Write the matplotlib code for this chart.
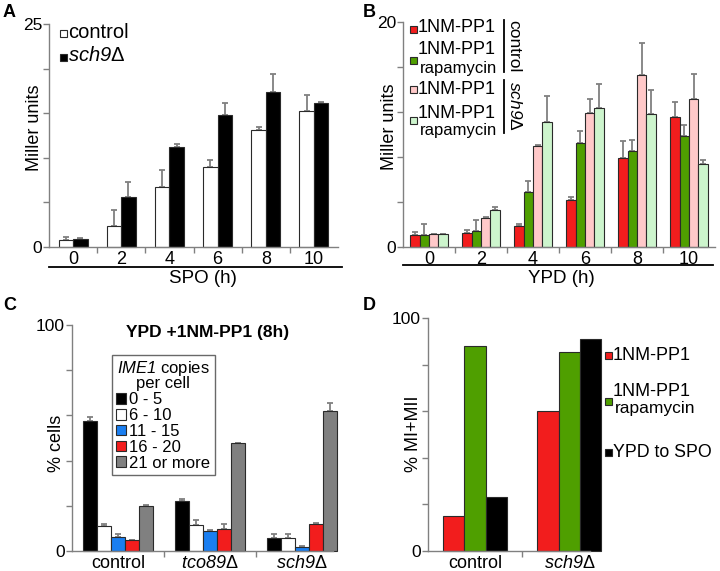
import matplotlib
matplotlib.use('Agg')
import matplotlib.pyplot as plt
from matplotlib.patches import Rectangle, Patch
from matplotlib.lines import Line2D
import numpy as np

plt.rcParams['font.family'] = ['Liberation Sans', 'DejaVu Sans']
plt.rcParams['mathtext.fontset'] = 'custom'
plt.rcParams['mathtext.rm'] = 'Liberation Sans'
plt.rcParams['mathtext.it'] = 'Liberation Sans:italic'
plt.rcParams['mathtext.sf'] = 'Liberation Sans:italic'
plt.rcParams['mathtext.bf'] = 'Liberation Sans:bold'

# ---------------- data ----------------
hours = ['0', '2', '4', '6', '8', '10']

# Panel A (Miller units, SPO)
a_control = [0.82, 2.4, 6.7, 9.0, 13.1, 15.2]
a_control_err = [0.3, 1.8, 1.9, 0.8, 0.4, 1.8]
a_sch9 = [0.93, 5.6, 11.2, 14.85, 17.4, 16.1]
a_sch9_err = [0.05, 1.7, 0.3, 1.25, 2.0, 0.15]

# Panel B (Miller units, YPD)
b_ctrl_nm = [1.04, 1.24, 1.89, 4.2, 7.9, 11.57]
b_ctrl_nm_err = [0.3, 0.24, 0.18, 0.24, 1.54, 1.3]
b_ctrl_rap = [1.04, 1.39, 4.88, 9.23, 8.49, 9.88]
b_ctrl_rap_err = [1.0, 1.04, 1.0, 1.04, 1.0, 0.95]
b_sch9_nm = [1.15, 2.57, 9.02, 11.95, 15.27, 13.17]
b_sch9_nm_err = [0.03, 0.09, 0.08, 1.25, 2.9, 2.2]
b_sch9_rap = [1.15, 3.28, 11.1, 12.4, 11.86, 7.37]
b_sch9_rap_err = [0.03, 0.32, 2.36, 2.1, 2.14, 0.35]

# Panel C (% cells)
c_strains = ['control', '$\\mathsf{tco89}$Δ', '$\\mathsf{sch9}$Δ']
c_bins = ['0 - 5', '6 - 10', '11 - 15', '16 - 20', '21 or more']
c_0_5 = [57.5, 22.2, 5.9]
c_0_5_err = [1.9, 1.0, 1.8]
c_6_10 = [11.2, 11.4, 5.9]
c_6_10_err = [0.9, 2.2, 1.8]
c_11_15 = [6.35, 8.7, 1.8]
c_11_15_err = [1.35, 0.8, 0.4]
c_16_20 = [4.7, 9.9, 12.1]
c_16_20_err = [0.3, 2.2, 0.5]
c_21 = [20.1, 47.7, 62.0]
c_21_err = [0.4, 0.3, 3.7]

# Panel D (% MI+MII)
d_strains = ['control', '$\\mathsf{sch9}$Δ']
d_nm = [14.9, 60.0]
d_rap = [88.1, 85.2]
d_spo = [23.1, 91.1]

# ---------------- style ----------------
W, H = 720, 571
RED = '#f21d1d'
GREEN = '#4f9f00'
PINK = '#ffc9c9'
LGREEN = '#cdf5cd'
BLUE = '#1a7ef0'
GBAR = '#808080'
AX = '#808080'
EDGE = '#2a2a2a'

fig = plt.figure(figsize=(7.2, 5.71), dpi=100)


def axes_px(l, t, r, b):
    return fig.add_axes([l / W, 1 - b / H, (r - l) / W, (b - t) / H])


def style(ax, ymax, step, xlabels, xlim):
    for s in ['top', 'right']:
        ax.spines[s].set_visible(False)
    for s in ['left', 'bottom']:
        ax.spines[s].set_color(AX)
        ax.spines[s].set_linewidth(1.0)
    ax.set_ylim(0, ymax)
    yt = np.arange(0, ymax + step / 2, step)
    ax.set_yticks(yt)
    ax.set_yticklabels(['0'] + [''] * (len(yt) - 2) + [str(ymax)])
    ax.tick_params(axis='y', length=4, width=1, color=AX, pad=1, labelsize=12.5)
    n = len(xlabels)
    ax.set_xticks(np.arange(n))
    ax.set_xticklabels(xlabels)
    ax.set_xticks(np.arange(n - 1) + 0.5, minor=True)
    ax.tick_params(axis='x', which='major', length=0, pad=3, labelsize=13)
    ax.tick_params(axis='x', which='minor', length=4, width=1, color=AX)
    ax.set_xlim(*xlim)


def bars(ax, x, vals, err, width, color):
    kw = dict(width=width, color=color, edgecolor=EDGE, linewidth=0.8, clip_on=False, zorder=2)
    if err is not None:
        kw['yerr'] = [np.zeros(len(vals)), err]
        kw['error_kw'] = dict(ecolor=GBAR, elinewidth=1.3, capsize=2.2, capthick=1.3, zorder=1)
    ax.bar(x, vals, **kw)


def ftext(x, y, s, **kw):
    fig.text(x / W, 1 - y / H, s, **kw)


def fsquare(cx, cy, color, size=7):
    fig.add_artist(Rectangle(((cx - size / 2) / W, 1 - (cy + size / 2) / H), size / W, size / H,
                             transform=fig.transFigure, facecolor=color, edgecolor=EDGE, lw=0.8))


def fline(x0, y0, x1, y1, lw=1.3):
    fig.add_artist(Line2D([x0 / W, x1 / W], [1 - y0 / H, 1 - y1 / H], color='black', lw=lw,
                          transform=fig.transFigure))


# ---------------- Panel A ----------------
axA = axes_px(49, 24, 338, 247)
x = np.arange(len(hours))
bars(axA, x - 0.15, a_control, a_control_err, 0.3, 'white')
bars(axA, x + 0.15, a_sch9, a_sch9_err, 0.3, 'black')
style(axA, 25, 5, hours, (-0.5, 5.5))
axA.set_ylabel('Miller units', fontsize=13)
axA.yaxis.set_label_coords(-0.022, 0.534)
axA.set_xlabel('SPO (h)', fontsize=13.5)
axA.xaxis.set_label_coords(0.533, -0.105)
axA.plot([0, 1.014], [-0.0897, -0.0897], transform=axA.transAxes, color='black', lw=1.3, clip_on=False)
fsquare(63.5, 33, 'white', 7)
fsquare(63.5, 57.5, 'black', 7)
ftext(68, 38, 'control', fontsize=14.5, va='baseline')
ftext(68, 61, '$\\mathsf{sch9}$Δ', fontsize=14.5, va='baseline')

# ---------------- Panel B ----------------
axB = axes_px(403, 22, 715, 247)
w = 0.18
bars(axB, x - 1.5 * w, b_ctrl_nm, b_ctrl_nm_err, w, RED)
bars(axB, x - 0.5 * w, b_ctrl_rap, b_ctrl_rap_err, w, GREEN)
bars(axB, x + 0.5 * w, b_sch9_nm, b_sch9_nm_err, w, PINK)
bars(axB, x + 1.5 * w, b_sch9_rap, b_sch9_rap_err, w, LGREEN)
style(axB, 20, 4, hours, (-0.5, 5.5))
axB.set_ylabel('Miller units', fontsize=13)
axB.yaxis.set_label_coords(-0.016, 0.533)
axB.set_xlabel('YPD (h)', fontsize=13.5)
axB.xaxis.set_label_coords(0.507, -0.10)
axB.plot([0, 0.994], [-0.08, -0.08], transform=axB.transAxes, color='black', lw=1.3, clip_on=False)
for cy, col in zip([29, 60, 89, 120], [RED, GREEN, PINK, LGREEN]):
    fsquare(413.5, cy, col, 7)
for by in [32.5, 54, 94, 118]:
    ftext(418, by, '1NM-PP1', fontsize=13, va='baseline')
for by in [73.5, 134.5]:
    ftext(420, by, 'rapamycin', fontsize=12, va='baseline')
fline(504, 20, 504, 72)
fline(504, 80, 504, 133)
ftext(514, 46, 'control', fontsize=12.5, rotation=-90, ha='center', va='center')
ftext(514.5, 106, '$\\mathsf{sch9}$Δ', fontsize=12.5, rotation=-90, ha='center', va='center')

# ---------------- Panel C ----------------
axC = axes_px(72, 325, 333, 551)
xc = np.arange(len(c_strains))
wc = 0.152
c_vals = [c_0_5, c_6_10, c_11_15, c_16_20, c_21]
c_errs = [c_0_5_err, c_6_10_err, c_11_15_err, c_16_20_err, c_21_err]
c_cols = ['black', 'white', BLUE, RED, GBAR]
for i, (v, e, col) in enumerate(zip(c_vals, c_errs, c_cols)):
    bars(axC, xc + (i - 2) * wc, v, e, wc, col)
style(axC, 100, 20, c_strains, (-0.5, 2.34))
axC.set_ylabel('% cells', fontsize=13)
axC.yaxis.set_label_coords(-0.027, 0.478)
axC.text(0.521, 0.969, 'YPD +1NM-PP1 (8h)', transform=axC.transAxes, ha='center', va='center',
         fontsize=12.5, fontweight='bold')
handles = [Patch(facecolor=c, edgecolor=EDGE, lw=0.8) for c in c_cols]
leg = axC.legend(handles, c_bins, title='$\\mathsf{IME1}$ copies\nper cell', loc='upper left',
                 bbox_to_anchor=(0.153, 0.867), borderaxespad=0, frameon=True, fancybox=False,
                 edgecolor='#444444', fontsize=12, title_fontsize=12, handlelength=0.6,
                 handleheight=0.6, handletextpad=0.2, labelspacing=0.05, borderpad=0.25)
leg.get_frame().set_linewidth(1.0)
leg.get_title().set_linespacing(0.85)
leg.get_title().set_multialignment('center')

# ---------------- Panel D ----------------
axD = axes_px(428, 318, 590, 551)
xd = np.arange(len(d_strains))
wd = 0.227
bars(axD, xd - wd, d_nm, None, wd, RED)
bars(axD, xd, d_rap, None, wd, GREEN)
bars(axD, xd + wd, d_spo, None, wd, 'black')
style(axD, 100, 20, d_strains, (-0.5, 1.22))
axD.set_ylabel('% MI+MII', fontsize=13)
axD.yaxis.set_label_coords(-0.037, 0.502)
fsquare(608.5, 355, RED, 7)
fsquare(608.5, 401, GREEN, 7)
fsquare(608.5, 452, 'black', 7)
ftext(613, 360, '1NM-PP1', fontsize=13, va='baseline')
ftext(613, 396, '1NM-PP1', fontsize=13, va='baseline')
ftext(615, 413, 'rapamycin', fontsize=12.5, va='baseline')
ftext(613, 457, 'YPD to SPO', fontsize=12.8, va='baseline')

# ---------------- panel letters ----------------
for lx, ly, s in [(3, 17, 'A'), (363, 17, 'B'), (3, 310, 'C'), (363, 310, 'D')]:
    ftext(lx, ly, s, fontsize=13, fontweight='bold', va='baseline')

fig.savefig('out.png', dpi=100)
